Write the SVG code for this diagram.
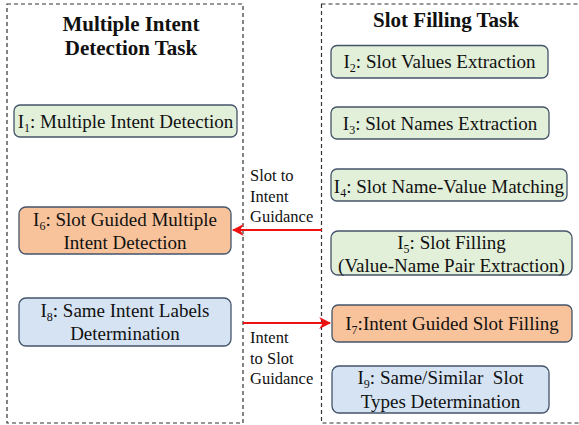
<svg xmlns="http://www.w3.org/2000/svg" width="579" height="425" viewBox="0 0 579 425">
<style>
text{fill:#111;font-family:"Liberation Serif","Times New Roman",serif;}
.title{font-size:21px;font-weight:bold;text-anchor:middle;}
.node{font-size:19px;text-anchor:middle;}
.lbl{font-size:16.5px;}
.sub{font-size:12px;}
.frame{fill:none;stroke:#333;stroke-width:1.2;stroke-dasharray:4,3;}
.g{fill:#e2efd9;stroke:#44546a;stroke-width:1.3;}
.o{fill:#f8c39b;stroke:#44546a;stroke-width:1.3;}
.b{fill:#d5e3f3;stroke:#44546a;stroke-width:1.3;}
.arr{stroke:#ee1111;stroke-width:2;fill:none;marker-end:url(#ah);}
</style>
<defs>
<marker id="ah" viewBox="0 0 10 10" refX="9" refY="5" markerWidth="6" markerHeight="6" orient="auto" markerUnits="strokeWidth">
<path d="M0,0 L10,5 L0,10 L3,5 Z" fill="#ee1111"/>
</marker>
</defs>
<g id="frames">
<rect class="frame" x="7" y="4" width="236" height="419"/>
<rect class="frame" x="321.5" y="4" width="262" height="419"/>
</g>
<g id="titles">
<text class="title" x="131" y="31">Multiple Intent</text>
<text class="title" x="131" y="55">Detection Task</text>
<text class="title" x="446" y="27">Slot Filling Task</text>
</g>
<g id="I1"><rect class="g" x="14" y="105" width="223" height="32" rx="6"/>
<text class="node" x="125.5" y="128">I<tspan class="sub" dy="4">1</tspan><tspan dy="-4">: Multiple Intent Detection</tspan></text></g>
<g id="I2"><rect class="g" x="331" y="45.5" width="217" height="32.5" rx="6"/>
<text class="node" x="439.5" y="68">I<tspan class="sub" dy="4">2</tspan><tspan dy="-4">: Slot Values Extraction</tspan></text></g>
<g id="I3"><rect class="g" x="331" y="107" width="218" height="32" rx="6"/>
<text class="node" x="440" y="130">I<tspan class="sub" dy="4">3</tspan><tspan dy="-4">: Slot Names Extraction</tspan></text></g>
<g id="I4"><rect class="g" x="331" y="169" width="236" height="32" rx="6"/>
<text class="node" x="449" y="192.5">I<tspan class="sub" dy="4">4</tspan><tspan dy="-4">: Slot Name-Value Matching</tspan></text></g>
<g id="I5"><rect class="g" x="331" y="231" width="241" height="44" rx="7"/>
<text class="node" x="451.5" y="249">I<tspan class="sub" dy="4">5</tspan><tspan dy="-4">: Slot Filling</tspan></text>
<text class="node" x="451.5" y="272">(Value-Name Pair Extraction)</text></g>
<g id="I6"><rect class="o" x="19" y="207" width="212" height="47" rx="7"/>
<text class="node" x="125" y="225.5">I<tspan class="sub" dy="4">6</tspan><tspan dy="-4">: Slot Guided Multiple</tspan></text>
<text class="node" x="125" y="249">Intent Detection</text></g>
<g id="I7"><rect class="o" x="332" y="305" width="240" height="37" rx="6"/>
<text class="node" x="452" y="330">I<tspan class="sub" dy="4">7</tspan><tspan dy="-4">:Intent Guided Slot Filling</tspan></text></g>
<g id="I8"><rect class="b" x="19" y="298" width="212" height="48" rx="7"/>
<text class="node" x="125" y="317">I<tspan class="sub" dy="4">8</tspan><tspan dy="-4">: Same Intent Labels</tspan></text>
<text class="node" x="125" y="340">Determination</text></g>
<g id="I9"><rect class="b" x="332" y="366" width="217" height="47" rx="7"/>
<text class="node" x="440.5" y="384">I<tspan class="sub" dy="4">9</tspan><tspan dy="-4">: Same/Similar&#160; Slot</tspan></text>
<text class="node" x="440.5" y="407.5">Types Determination</text></g>
<g id="connectors">
<line class="arr" x1="322" y1="230" x2="233" y2="230"/>
<line class="arr" x1="243" y1="323" x2="330" y2="323"/>
<text class="lbl" x="250" y="181">Slot to</text>
<text class="lbl" x="250" y="202">Intent</text>
<text class="lbl" x="250" y="222">Guidance</text>
<text class="lbl" x="250" y="343">Intent</text>
<text class="lbl" x="250" y="364">to Slot</text>
<text class="lbl" x="250" y="384">Guidance</text>
</g>
</svg>
